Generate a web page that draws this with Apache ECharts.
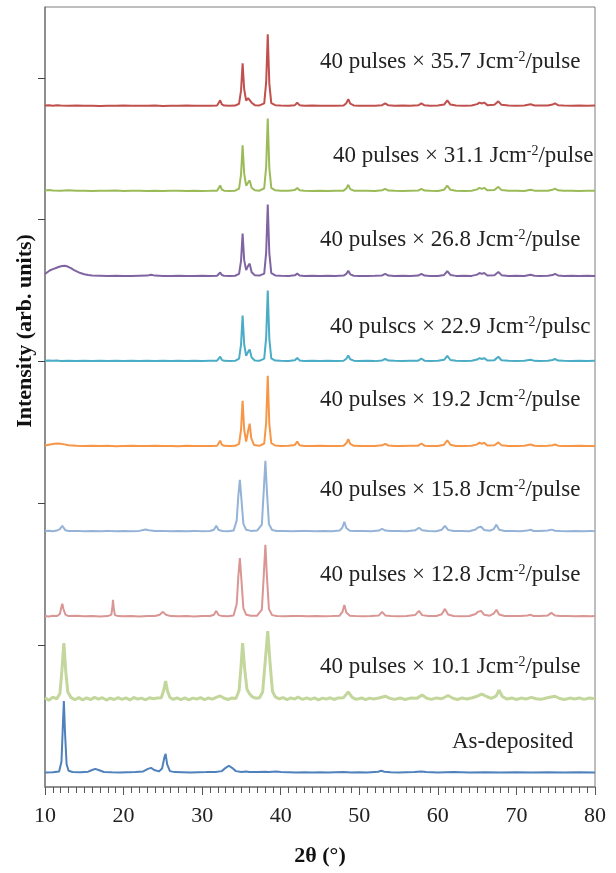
<!DOCTYPE html>
<html>

<head>
  <meta charset="utf-8" />
  <title>XRD patterns</title>
  <style>
    html, body { margin: 0; padding: 0; background: #ffffff; }
  </style>
  <script src="https://cdn.jsdelivr.net/npm/echarts@6/dist/echarts.min.js"></script>
</head>

<body>
  <div id="main" style="width: 616px;height:873px;"></div>
  <script type="text/javascript">
    // series names, bottom to top
    var names = ['As-deposited', '10.1', '12.8', '15.8', '19.2', '22.9', '26.8', '31.1', '35.7'];
    // vertical offset of each pattern (arb. units)
    var offsets = [100, 620, 1200, 1800, 2400, 3000, 3600, 4200, 4800];
    var colors = ['#4f81bd', '#c3d69b', '#d99694', '#95b3d7', '#f79646', '#4bacc6', '#8064a2', '#9bbb59', '#c0504d'];

    // text of the annotations, bottom to top
    var labelTexts = [
      'As-deposited',
      '40 pulses × 10.1 Jcm{sup|-2}/pulse',
      '40 pulses × 12.8 Jcm{sup|-2}/pulse',
      '40 pulses × 15.8 Jcm{sup|-2}/pulse',
      '40 pulses × 19.2 Jcm{sup|-2}/pulse',
      '40 pulscs × 22.9 Jcm{sup|-2}/pulsc',
      '40 pulses × 26.8 Jcm{sup|-2}/pulse',
      '40 pulses × 31.1 Jcm{sup|-2}/pulse',
      '40 pulses × 35.7 Jcm{sup|-2}/pulse'
    ];
    var labelX = [452, 320, 320, 320, 320, 330, 320, 333, 320];
    var labelY = [742, 667, 575, 490, 400, 327, 240, 156, 62];

    var xTicks = [10, 20, 30, 40, 50, 60, 70, 80];
    var yTicks = [1000, 2000, 3000, 4000, 5000];

    // intensities [2theta, counts above own baseline]
    var asDeposited = [[10,3],[11,4],[11.8,10],[12.1,80],[12.25,300],[12.4,507],[12.55,280],[12.75,60],[13,15],[13.5,6],[14.5,4],[15.5,8],[16,20],[16.4,28],[16.9,18],[17.5,6],[18.5,4],[19.5,3],[20.5,4],[21.5,5],[22.5,10],[23.1,28],[23.5,35],[23.9,20],[24.5,10],[24.9,30],[25.2,110],[25.35,134],[25.55,60],[25.9,12],[26.5,5],[27.5,4],[28.5,3],[29.5,4],[30.5,5],[31.3,6],[31.5,12],[31.7,5],[32.5,12],[33,35],[33.4,50],[33.8,35],[34.3,12],[35,6],[35.6,10],[36,6],[37,5],[38,8],[38.5,6],[39.4,10],[40,5],[41,4],[42,3],[43,4],[44,3],[45,4],[46,3],[47,4],[48,5],[49,3],[50,4],[51,3],[52.4,8],[52.8,14],[53.2,8],[54,4],[55,3],[56,4],[57,5],[57.9,10],[58.5,5],[60,3],[62,5],[64,3],[66,4],[68,3],[70,4],[72,3],[74,4],[76,3],[78,4],[80,3]];

    var p101 = [[10,10],[10.5,-8],[11,14],[11.5,2],[11.9,40],[12.15,200],[12.4,394],[12.65,190],[12.9,50],[13.3,12],[13.8,-5],[14.3,10],[14.8,-6],[15.3,8],[15.8,-4],[16.3,12],[16.8,0],[17.3,9],[17.8,-7],[18.3,6],[18.8,-3],[19.3,10],[19.8,-2],[20.3,8],[20.8,-6],[21.3,11],[21.8,0],[22.3,7],[22.8,-5],[23.3,9],[23.8,2],[24.3,8],[24.8,10],[25.1,60],[25.35,127],[25.6,55],[25.9,12],[26.3,-3],[26.8,9],[27.3,-4],[27.8,8],[28.3,-6],[28.8,7],[29.3,0],[29.8,10],[30.3,-4],[30.8,8],[31.3,0],[31.8,12],[32.3,22],[32.8,6],[33.3,-3],[33.8,8],[34.3,4],[34.7,60],[34.95,230],[35.15,394],[35.4,220],[35.7,70],[36,40],[36.4,15],[36.8,6],[37.3,10],[37.7,50],[38.05,280],[38.35,479],[38.65,250],[38.95,55],[39.3,15],[39.8,2],[40.3,10],[40.8,-4],[41.3,8],[41.8,0],[42.2,14],[42.8,-3],[43.3,9],[43.8,-2],[44.3,8],[44.8,-5],[45.3,7],[45.8,0],[46.3,9],[46.8,-3],[47.3,8],[48,10],[48.6,50],[49.1,12],[49.6,-2],[50.3,8],[50.8,-4],[51.3,7],[51.8,0],[52.5,8],[53.3,20],[53.9,5],[54.5,-2],[55.2,8],[55.8,-3],[56.5,7],[57.3,5],[58,28],[58.6,6],[59.2,-2],[59.8,8],[60.5,2],[61.3,25],[61.9,6],[62.5,-3],[63.1,8],[63.7,0],[64.4,9],[65,20],[65.6,35],[66.2,18],[66.8,5],[67.4,20],[67.8,63],[68.2,18],[68.8,0],[69.4,8],[70,-3],[70.6,7],[71.2,0],[71.9,12],[72.5,2],[73.1,-2],[73.8,8],[74.9,20],[75.5,4],[76.1,-3],[76.8,7],[77.4,0],[78,8],[78.6,-2],[79.3,7],[80,2]];

    var p128 = [[10,6],[10.5,3],[11,7],[11.5,5],[11.9,20],[12.05,60],[12.2,92],[12.35,55],[12.6,15],[13,5],[14,7],[15,4],[16,6],[17,3],[18,5],[18.45,15],[18.6,80],[18.65,120],[18.75,60],[18.9,12],[19.3,5],[20,4],[21,6],[22,3],[23,5],[24,6],[24.6,15],[25,35],[25.4,14],[26,5],[27,4],[28,6],[29,3],[30,5],[31,6],[31.5,14],[31.8,42],[32.1,12],[32.6,5],[33.3,4],[34,10],[34.4,90],[34.6,280],[34.8,415],[35,260],[35.25,60],[35.6,15],[36.2,7],[37,8],[37.6,50],[37.85,300],[38.05,507],[38.25,280],[38.5,55],[38.9,12],[39.5,6],[40.5,4],[41.5,6],[42.5,5],[43.5,4],[44.5,6],[45.5,4],[46.5,5],[47.5,8],[47.85,35],[48.1,84],[48.35,30],[48.8,8],[49.5,5],[50.5,4],[51.5,6],[52.5,10],[52.9,35],[53.3,10],[54,5],[55,4],[56,6],[57.1,12],[57.6,42],[58,12],[58.8,5],[59.8,6],[60.5,18],[60.9,56],[61.3,16],[62,6],[63,4],[64,6],[64.8,20],[65.1,35],[65.3,30],[65.5,42],[65.9,14],[66.6,8],[67.1,22],[67.45,50],[67.8,16],[68.5,6],[69.5,5],[70.5,6],[71.4,10],[71.8,14],[72.2,6],[73,5],[74,10],[74.45,28],[74.9,9],[75.6,5],[76.5,6],[77.5,4],[78.5,6],[79.5,4],[80,5]];

    var p158 = [[10,5],[10.5,7],[11,4],[11.5,8],[11.9,18],[12.05,32],[12.2,42],[12.35,28],[12.6,10],[13,5],[14,6],[15,3],[16,5],[17,4],[18,6],[19,3],[20,5],[21,4],[22,6],[22.5,12],[22.8,15],[23.2,10],[24,5],[25,6],[26,3],[27,5],[28,4],[29,6],[30,3],[31,5],[31.5,14],[31.8,42],[32.1,12],[32.6,5],[33.3,4],[34,8],[34.4,80],[34.6,250],[34.8,366],[35,230],[35.25,55],[35.6,14],[36.2,6],[37,8],[37.6,50],[37.85,300],[38.05,500],[38.25,280],[38.5,55],[38.9,12],[39.5,5],[40.5,6],[41.5,4],[42.5,6],[43.5,5],[44.5,4],[45.5,6],[46.5,4],[47.5,8],[47.85,30],[48.1,70],[48.35,26],[48.8,7],[49.5,5],[50.5,6],[51.5,4],[52.5,8],[52.9,21],[53.3,8],[54,5],[55,6],[56,4],[57.1,10],[57.6,28],[58,10],[58.8,5],[59.8,4],[60.5,14],[60.9,42],[61.3,13],[62,5],[63,6],[64,4],[64.8,16],[65.1,30],[65.3,24],[65.5,35],[65.9,12],[66.6,7],[67.1,18],[67.45,50],[67.8,14],[68.5,5],[69.5,6],[70.5,4],[71.4,8],[71.8,14],[72.2,5],[73,6],[74,8],[74.5,15],[74.9,7],[75.6,5],[76.5,4],[77.5,6],[78.5,4],[79.5,6],[80,4]];

    var p192 = [[10,8],[10.5,14],[11,18],[11.5,22],[12,20],[12.5,16],[13,10],[14,6],[15,4],[16,7],[17,4],[18,6],[19,3],[20,5],[21,6],[22,4],[23,5],[24,7],[25,4],[26,5],[27,3],[28,6],[29,4],[30,5],[31,4],[31.9,6],[32.1,16],[32.3,42],[32.5,15],[32.8,6],[33.5,4],[34.2,6],[34.7,20],[34.95,120],[35.15,324],[35.35,120],[35.6,35],[35.85,110],[36.05,162],[36.25,60],[36.6,12],[37.3,6],[37.9,22],[38.15,170],[38.35,500],[38.55,160],[38.8,24],[39.3,8],[40,5],[41,6],[41.8,12],[42.1,35],[42.4,10],[43,5],[44,4],[45,6],[46,4],[47,5],[48,6],[48.35,24],[48.6,52],[48.85,20],[49.3,6],[50,4],[51,5],[52,4],[52.9,9],[53.3,20],[53.7,8],[54.5,5],[55.5,4],[56.5,6],[57.5,7],[57.9,22],[58.3,7],[59,5],[60,4],[60.8,14],[61.2,45],[61.6,13],[62.3,5],[63.3,4],[64.3,6],[65,16],[65.3,28],[65.6,20],[65.9,28],[66.3,8],[67.2,10],[67.7,30],[68.1,9],[69,5],[70,4],[71,6],[71.8,15],[72.3,6],[73,5],[74,6],[74.6,10],[74.9,15],[75.3,7],[76,4],[77,5],[78,6],[79,4],[80,5]];

    var p229 = [[10,5],[10.5,8],[11,5],[11.5,7],[12,4],[13,6],[14,3],[15,5],[16,4],[17,6],[18,3],[19,5],[20,4],[21,6],[22,3],[23,5],[24,4],[25,6],[26,3],[27,5],[28,4],[29,6],[30,3],[31,5],[31.9,6],[32.1,14],[32.3,35],[32.5,12],[32.8,5],[33.5,4],[34.2,5],[34.7,20],[34.95,120],[35.15,324],[35.35,122],[35.6,40],[35.85,68],[36.05,85],[36.3,28],[36.7,8],[37.3,5],[37.9,20],[38.15,170],[38.35,500],[38.55,160],[38.8,22],[39.3,7],[40,5],[41,4],[41.8,9],[42.1,25],[42.4,8],[43,4],[44,6],[45,3],[46,5],[47,4],[48,6],[48.35,20],[48.6,42],[48.85,16],[49.3,6],[50,4],[51,5],[52,3],[52.9,8],[53.3,18],[53.7,7],[54.5,5],[55.5,4],[56.5,5],[57.5,6],[57.9,20],[58.3,6],[59,4],[60,5],[60.8,12],[61.2,40],[61.6,11],[62.3,5],[63.3,4],[64.3,5],[65,14],[65.3,24],[65.6,18],[65.9,24],[66.3,7],[67.2,10],[67.7,34],[68.1,9],[69,5],[70,4],[71,6],[71.8,13],[72.3,5],[73,4],[74,5],[74.6,11],[74.9,18],[75.3,7],[76,5],[77,4],[78,6],[79,4],[80,5]];

    var p268 = [[10,18],[10.3,30],[10.6,42],[11,52],[11.4,60],[11.8,68],[12.2,74],[12.5,76],[12.9,70],[13.3,58],[13.7,45],[14.1,34],[14.5,24],[15,16],[15.5,10],[16,7],[17,5],[18,3],[19,5],[20,4],[21,3],[22,5],[23,6],[23.5,12],[24,6],[25,4],[26,3],[27,5],[28,4],[29,3],[30,5],[31,3],[31.9,5],[32.1,10],[32.3,28],[32.5,10],[32.8,5],[33.5,4],[34.2,5],[34.7,18],[34.95,110],[35.15,303],[35.35,115],[35.6,45],[35.85,75],[36.05,90],[36.3,30],[36.7,9],[37.3,6],[37.9,20],[38.15,170],[38.35,507],[38.55,165],[38.8,24],[39.3,7],[40,5],[41,4],[41.8,8],[42.1,20],[42.4,7],[43,4],[44,5],[45,3],[46,5],[47,4],[48,6],[48.35,18],[48.6,40],[48.85,15],[49.3,5],[50,4],[51,3],[52,5],[52.9,7],[53.3,18],[53.7,6],[54.5,4],[55.5,5],[56.5,3],[57.5,6],[57.9,18],[58.3,6],[59,4],[60,3],[60.8,11],[61.2,38],[61.6,11],[62.3,4],[63.3,5],[64.3,4],[65,13],[65.3,24],[65.6,18],[65.9,24],[66.3,7],[67.2,9],[67.7,32],[68.1,9],[69,4],[70,5],[71,3],[71.8,12],[72.3,5],[73,4],[74,5],[74.6,10],[74.9,18],[75.3,7],[76,4],[77,5],[78,3],[79,5],[80,4]];

    var p311 = [[10,6],[10.5,9],[11,6],[12,5],[13,7],[14,4],[15,5],[16,3],[17,5],[18,4],[19,6],[20,3],[21,5],[22,4],[23,3],[24,5],[25,3],[26,4],[27,5],[28,3],[29,4],[30,3],[31,4],[31.9,5],[32.1,14],[32.3,42],[32.5,13],[32.8,5],[33.5,3],[34.2,5],[34.7,20],[34.95,120],[35.15,324],[35.35,125],[35.6,40],[35.85,62],[36.05,77],[36.3,26],[36.7,8],[37.3,5],[37.9,22],[38.15,175],[38.35,514],[38.55,165],[38.8,24],[39.3,7],[40,4],[41,5],[41.8,9],[42.1,24],[42.4,8],[43,4],[44,3],[45,5],[46,3],[47,4],[48,5],[48.35,20],[48.6,46],[48.85,16],[49.3,5],[50,4],[51,5],[52,3],[52.9,8],[53.3,18],[53.7,6],[54.5,4],[55.5,3],[56.5,5],[57.5,6],[57.9,18],[58.3,6],[59,4],[60,3],[60.8,12],[61.2,40],[61.6,11],[62.3,5],[63.3,3],[64.3,5],[65,14],[65.3,25],[65.6,18],[65.9,25],[66.3,7],[67.2,9],[67.7,32],[68.1,9],[69,4],[70,5],[71,3],[71.8,12],[72.3,5],[73,4],[74,5],[74.6,11],[74.9,19],[75.3,7],[76,4],[77,5],[78,3],[79,5],[80,4]];

    var p357 = [[10,5],[10.5,8],[11,4],[11.5,7],[12,5],[13,3],[14,5],[15,3],[16,4],[17,2],[18,4],[19,3],[20,6],[21,3],[22,4],[23,3],[24,5],[25,2],[26,4],[27,3],[28,5],[29,3],[30,4],[31,3],[31.9,5],[32.1,14],[32.3,42],[32.5,14],[32.8,5],[33.5,4],[34.2,5],[34.7,18],[34.95,110],[35.15,303],[35.35,120],[35.6,40],[35.85,58],[36.05,70],[36.3,25],[36.7,8],[37.3,6],[37.9,20],[38.15,170],[38.35,507],[38.55,160],[38.8,22],[39.3,8],[40,5],[41,4],[41.8,8],[42.1,25],[42.4,8],[43,4],[44,5],[45,3],[46,4],[47,3],[48,6],[48.35,22],[48.6,50],[48.85,18],[49.3,6],[50,4],[51,3],[52,4],[52.9,8],[53.3,20],[53.7,7],[54.5,4],[55.5,5],[56.5,3],[57.5,7],[57.9,20],[58.3,7],[59,4],[60,5],[60.8,12],[61.2,42],[61.6,12],[62.3,5],[63.3,4],[64.3,6],[65,15],[65.3,26],[65.6,20],[65.9,26],[66.3,8],[67.2,10],[67.7,35],[68.1,10],[69,5],[70,4],[71,6],[71.8,14],[72.3,6],[73,5],[74,6],[74.6,12],[74.9,20],[75.3,8],[76,5],[77,4],[78,6],[79,4],[80,5]];

    var patterns = [asDeposited, p101, p128, p158, p192, p229, p268, p311, p357];

    var myChart = echarts.init(document.getElementById('main'), null, { renderer: 'canvas' });

    var serif = 'Liberation Serif';

    var series = patterns.map(function (pts, i) {
      return {
        name: names[i],
        type: 'line',
        showSymbol: false,
        smooth: false,
        z: 2 + i,
        lineStyle: { color: colors[i], width: i === 1 ? 3 : 2 },
        itemStyle: { color: colors[i] },
        data: pts.map(function (p) { return [p[0], p[1] + offsets[i]]; })
      };
    });

    var graphic = labelTexts.map(function (t, i) {
      return {
        type: 'text',
        left: labelX[i],
        top: labelY[i] - 12,
        z: 100,
        style: {
          text: t,
          fill: '#222',
          font: '23px "' + serif + '"',
          rich: {
            sup: { fontSize: 14, fontFamily: serif, fill: '#222', padding: [0, 0, 9, 0] }
          }
        }
      };
    });
    // y axis title
    graphic.push({
      type: 'text',
      x: 25,
      y: 331,
      rotation: Math.PI / 2,
      z: 100,
      style: {
        text: 'Intensity (arb. units)',
        fill: '#111',
        font: 'bold 22px "' + serif + '"',
        align: 'center',
        verticalAlign: 'middle'
      }
    });

    var option = {
      animation: false,
      backgroundColor: '#ffffff',
      grid: {
        left: 45,
        right: 21,
        top: 7,
        bottom: 86,
        containLabel: false,
        show: true,
        borderColor: '#7f7f7f',
        borderWidth: 1
      },
      xAxis: {
        type: 'value',
        min: 10,
        max: 80,
        interval: 10,
        name: '2θ (°)',
        nameLocation: 'middle',
        nameGap: 58,
        nameTextStyle: { fontFamily: serif, fontSize: 22, fontWeight: 'bold', color: '#111' },
        axisLine: { onZero: false, lineStyle: { color: '#7f7f7f', width: 1.5 } },
        axisTick: { show: true, inside: false, length: 8, lineStyle: { color: '#555' }, customValues: xTicks },
        minorTick: { show: true, splitNumber: 10, length: 6, lineStyle: { color: '#555' } },
        axisLabel: { fontFamily: serif, fontSize: 22, color: '#222', margin: 18, customValues: xTicks },
        splitLine: { show: false }
      },
      yAxis: {
        type: 'value',
        min: 0,
        max: 5500,
        interval: 1000,
        axisLine: { show: true, lineStyle: { color: '#7f7f7f', width: 1.5 } },
        axisTick: { show: true, inside: false, length: 7, lineStyle: { color: '#444' }, customValues: yTicks },
        axisLabel: { show: false },
        splitLine: { show: false }
      },
      graphic: graphic,
      series: series
    };
    myChart.setOption(option);
  </script>
</body>

</html>
